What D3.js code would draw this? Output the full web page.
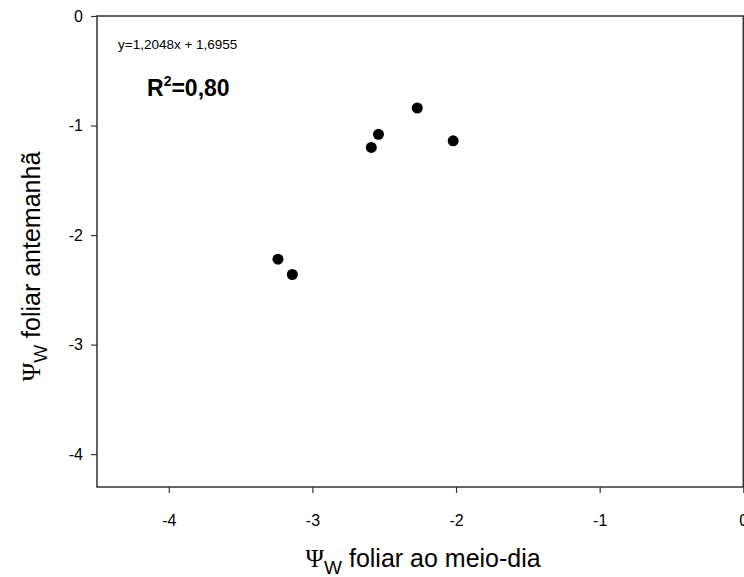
<!DOCTYPE html>
<html>
<head>
<meta charset="utf-8">
<script src="https://cdn.jsdelivr.net/npm/d3@7/dist/d3.min.js"></script>
<style>
  html, body { margin: 0; padding: 0; background: #fff; overflow: hidden; }
  svg { display: block; }
</style>
</head>
<body>
<svg id="chart" width="744" height="577"></svg>
<script>
// Leaf water potential: midday (x) vs predawn (y), MPa
const middayPsi  = [-3.24, -3.14, -2.27, -2.54, -2.59, -2.02];
const predawnPsi = [-2.22, -2.36, -0.84, -1.08, -1.20, -1.14];

const xTicks = [-4, -3, -2, -1, 0];
const yTicks = [0, -1, -2, -3, -4];

const equationText = "y=1,2048x + 1,6955";
const r2Value = "0,80";

const margin = { top: 16, left: 97 };
const plotW = 743.3 - margin.left;
const plotH = 487 - margin.top;

const svg = d3.select("#chart");
const g = svg.append("g").attr("transform", `translate(${margin.left},${margin.top})`);

const x = d3.scaleLinear().domain([-4.5, 0]).range([0, plotW]);
const y = d3.scaleLinear().domain([0, -4.3]).range([0, plotH]);

const fmt = d => String(d);
const sans = "Arial, 'Liberation Sans', sans-serif";

// Axes
const xAxis = d3.axisBottom(x).tickValues(xTicks).tickSize(6).tickPadding(22).tickFormat(fmt);
const yAxis = d3.axisLeft(y).tickValues(yTicks).tickSize(6).tickPadding(8).tickFormat(fmt);

const gx = g.append("g").attr("transform", `translate(0,${plotH})`).call(xAxis);
const gy = g.append("g").call(yAxis);

[gx, gy].forEach(a => {
  a.select(".domain").remove();
  a.selectAll(".tick line").attr("stroke", "#333").attr("stroke-width", 1.2);
  a.selectAll(".tick text")
    .attr("fill", "#000")
    .style("font-family", sans)
    .style("font-size", "16px");
});

// Frame
g.append("rect")
  .attr("x", 0).attr("y", 0)
  .attr("width", plotW).attr("height", plotH)
  .attr("fill", "none")
  .attr("stroke", "#333")
  .attr("stroke-width", 1.5);

// Points
g.selectAll("circle.pt")
  .data(middayPsi.map((v, i) => [v, predawnPsi[i]]))
  .join("circle")
  .attr("class", "pt")
  .attr("cx", d => x(d[0]))
  .attr("cy", d => y(d[1]))
  .attr("r", 5.5)
  .attr("fill", "#000");

// Regression annotation
g.append("text")
  .attr("x", 21).attr("y", 33)
  .style("font-family", sans)
  .style("font-size", "13.5px")
  .attr("fill", "#000")
  .text(equationText);

const r2 = g.append("text")
  .attr("x", 50).attr("y", 80)
  .style("font-family", sans)
  .style("font-size", "23px")
  .style("font-weight", "bold")
  .attr("fill", "#000");
r2.append("tspan").text("R");
r2.append("tspan").attr("dy", -10).style("font-size", "14px").text("2");
r2.append("tspan").attr("dy", 10).text("=" + r2Value);

// Axis titles
function psiLabel(sel, rest) {
  sel.style("font-family", sans)
     .style("font-size", "25px")
     .attr("fill", "#000");
  sel.append("tspan").style("font-family", "'Liberation Serif', 'Times New Roman', serif").text("Ψ");
  sel.append("tspan").attr("dy", 7).style("font-size", "19px").text("W");
  sel.append("tspan").attr("dy", -7).text(" " + rest);
}

const xt = svg.append("text")
  .attr("x", margin.left + plotW / 2 + 3)
  .attr("y", 567)
  .attr("text-anchor", "middle");
psiLabel(xt, "foliar ao meio-dia");

const yt = svg.append("text")
  .attr("transform", `translate(40,${margin.top + plotH / 2 + 15}) rotate(-90)`)
  .attr("text-anchor", "middle");
psiLabel(yt, "foliar antemanhã");
</script>
</body>
</html>
